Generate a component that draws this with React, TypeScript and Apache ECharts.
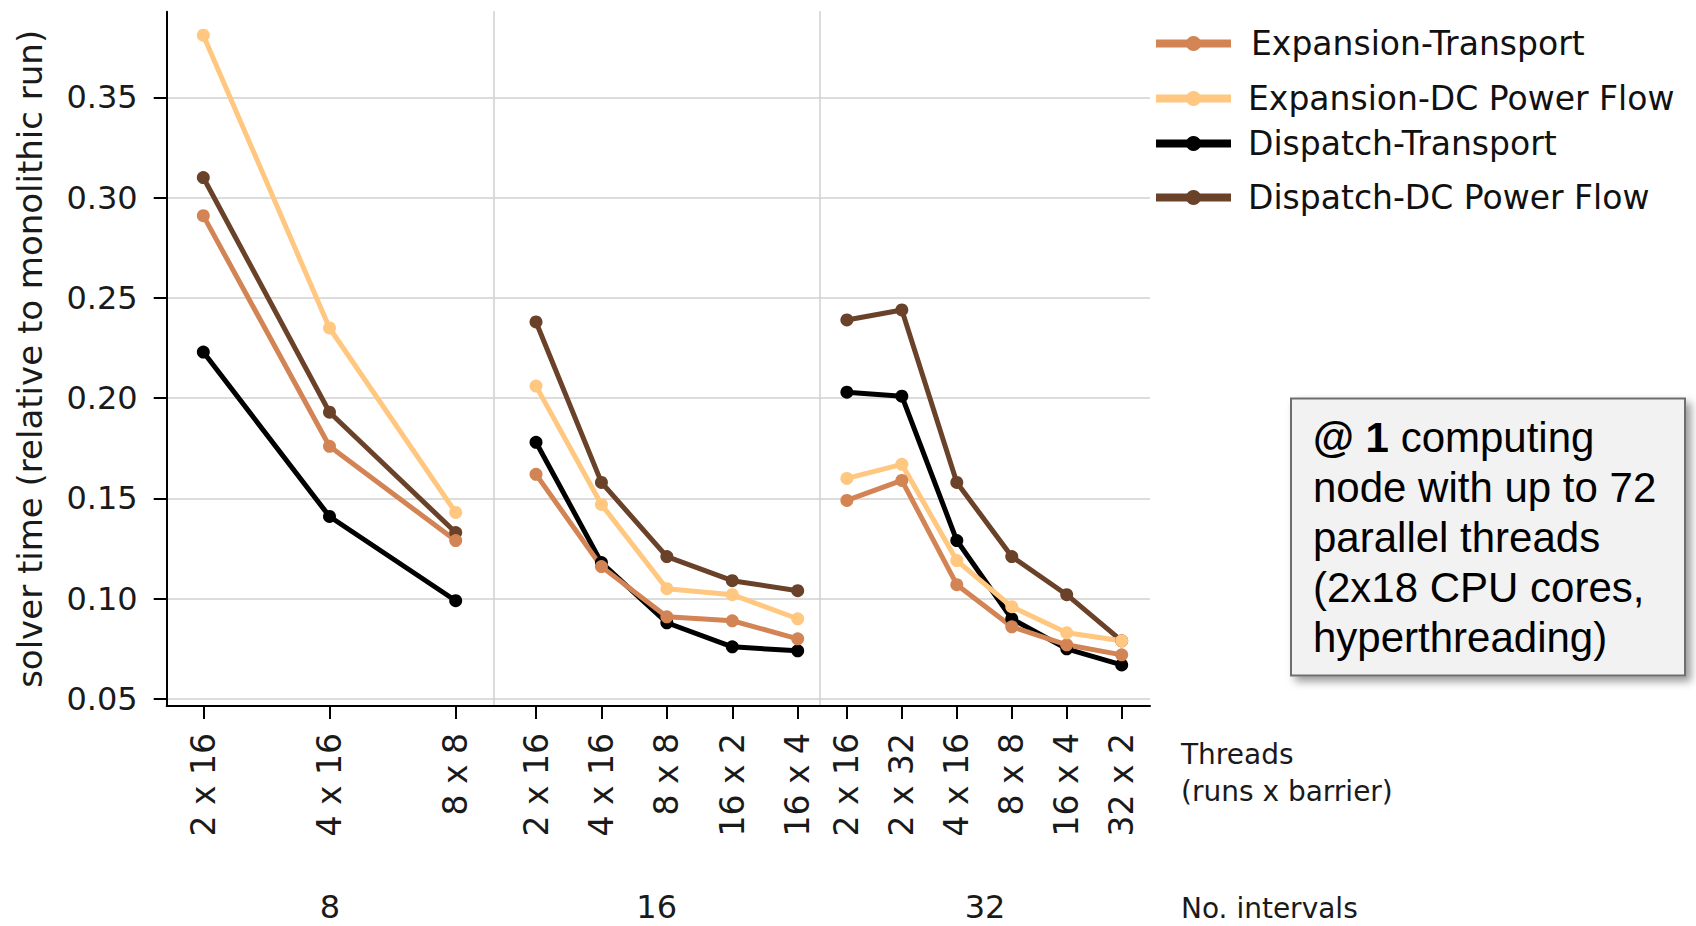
import React, { useEffect, useRef } from "react";
import * as echarts from "echarts";

// ---------- data ----------
const seriesNames = [
  "Expansion-Transport",
  "Expansion-DC Power Flow",
  "Dispatch-Transport",
  "Dispatch-DC Power Flow",
];
const seriesColors = ["#D38454", "#FFC77F", "#000000", "#694229"];

const intervalLabels = ["8", "16", "32"];
const threads8 = ["2 x 16", "4 x 16", "8 x 8"];
const threads16 = ["2 x 16", "4 x 16", "8 x 8", "16 x 2", "16 x 4"];
const threads32 = ["2 x 16", "2 x 32", "4 x 16", "8 x 8", "16 x 4", "32 x 2"];
const yTicks = [0.05, 0.1, 0.15, 0.2, 0.25, 0.3, 0.35];

const expansionTransport8 = [0.291, 0.176, 0.129];
const expansionTransport16 = [0.162, 0.116, 0.091, 0.089, 0.08];
const expansionTransport32 = [0.149, 0.159, 0.107, 0.086, 0.077, 0.072];

const expansionDC8 = [0.381, 0.235, 0.143];
const expansionDC16 = [0.206, 0.147, 0.105, 0.102, 0.09];
const expansionDC32 = [0.16, 0.167, 0.119, 0.096, 0.083, 0.079];

const dispatchTransport8 = [0.223, 0.141, 0.099];
const dispatchTransport16 = [0.178, 0.118, 0.088, 0.076, 0.074];
const dispatchTransport32 = [0.203, 0.201, 0.129, 0.09, 0.075, 0.067];

const dispatchDC8 = [0.31, 0.193, 0.133];
const dispatchDC16 = [0.238, 0.158, 0.121, 0.109, 0.104];
const dispatchDC32 = [0.239, 0.244, 0.158, 0.121, 0.102, 0.079];

const yAxisTitle = "solver time (relative to monolithic run)";
const threadsTitle = "Threads\n(runs x barrier)";
const intervalsTitle = "No. intervals";
const noteText =
  "{b|@ 1} computing\nnode with up to 72\nparallel threads\n(2x18 CPU cores,\nhyperthreading)";

// ---------- layout ----------
const FONT = "'DejaVu Sans', sans-serif";
const groups = [
  { threads: threads8, values: [expansionTransport8, expansionDC8, dispatchTransport8, dispatchDC8] },
  { threads: threads16, values: [expansionTransport16, expansionDC16, dispatchTransport16, dispatchDC16] },
  { threads: threads32, values: [expansionTransport32, expansionDC32, dispatchTransport32, dispatchDC32] },
];
const gridLeft = [166.7, 493.3, 820];
const gridWidth = [326.6, 326.7, 330];
const gridTop = 11.7;
const gridHeight = 694.3;
const xMin = [-0.29, -0.653, -0.489];
const xMax = [2.298, 4.341, 5.515];
const yMin = 0.0465;
const yMax = 0.3927;
const legendTops = [27, 82, 127, 181];
const drawOrder = [2, 3, 0, 1];

export default function App() {
  const ref = useRef<HTMLDivElement>(null);

  useEffect(() => {
    if (!ref.current) return;
    const chart = echarts.init(ref.current, undefined, { renderer: "svg" });

    const grid = groups.map((_, g) => ({
      left: gridLeft[g],
      top: gridTop,
      width: gridWidth[g],
      height: gridHeight,
    }));

    const xAxis = groups.map((grp, g) => {
      const idx = grp.threads.map((_, i) => i);
      return {
        type: "value",
        gridIndex: g,
        min: xMin[g],
        max: xMax[g],
        axisLine: { show: true, onZero: false, lineStyle: { color: "#000", width: 2 } },
        axisTick: { show: true, length: 13, customValues: idx, lineStyle: { color: "#000", width: 2 } },
        axisLabel: {
          customValues: idx,
          formatter: (v: number) => grp.threads[Math.round(v)],
          rotate: 90,
          margin: 27,
          fontSize: 33,
          fontFamily: FONT,
          color: "#1a1a1a",
        },
        splitLine: { show: false },
      };
    });

    const yAxis = groups.map((_, g) => ({
      type: "value",
      gridIndex: g,
      min: yMin,
      max: yMax,
      name: g === 0 ? yAxisTitle : "",
      nameLocation: "middle",
      nameGap: 120,
      nameTextStyle: { fontSize: 34, fontFamily: FONT, color: "#1a1a1a" },
      axisLine: {
        show: true,
        onZero: false,
        lineStyle: { color: g === 0 ? "#000" : "#d0d0d0", width: g === 0 ? 2 : 1.5 },
      },
      axisTick: {
        show: g === 0,
        length: 13,
        customValues: yTicks,
        lineStyle: { color: "#000", width: 2 },
      },
      axisLabel: {
        show: g === 0,
        customValues: yTicks,
        formatter: (v: number) => v.toFixed(2),
        margin: 29,
        fontSize: 32,
        fontFamily: FONT,
        color: "#1a1a1a",
      },
      splitLine: { show: true, lineStyle: { color: "#d0d0d0", width: 1.5 } },
    }));

    const series: any[] = [];
    groups.forEach((grp, g) => {
      drawOrder.forEach((s) => {
        series.push({
          type: "line",
          name: seriesNames[s],
          xAxisIndex: g,
          yAxisIndex: g,
          data: grp.values[s].map((v, i) => [i, v]),
          symbol: "circle",
          symbolSize: 13,
          showSymbol: true,
          lineStyle: { width: 5, color: seriesColors[s] },
          itemStyle: { color: seriesColors[s] },
          emphasis: { disabled: true },
        });
      });
    });

    const legend = seriesNames.map((name, i) => ({
      data: [name],
      left: 1152,
      top: legendTops[i],
      orient: "vertical",
      padding: 0,
      itemWidth: 75,
      itemHeight: 19,
      selectedMode: false,
      lineStyle: { width: 8 },
      textStyle: {
        fontSize: 33,
        fontFamily: FONT,
        color: "#111",
        padding: [0, 0, 0, i === 0 ? 15 : 12],
      },
    }));

    const graphic: any[] = [
      ...intervalLabels.map((t, g) => ({
        type: "text",
        x: gridLeft[g] + gridWidth[g] / 2,
        y: 907,
        style: {
          text: t,
          fontSize: 32,
          fontFamily: FONT,
          fill: "#1a1a1a",
          textAlign: "center",
          textVerticalAlign: "middle",
        },
      })),
      {
        type: "text",
        x: 1181,
        y: 736,
        style: {
          text: threadsTitle,
          fontSize: 28,
          lineHeight: 37,
          fontFamily: FONT,
          fill: "#1a1a1a",
          textAlign: "left",
          textVerticalAlign: "top",
        },
      },
      {
        type: "text",
        x: 1181,
        y: 908,
        style: {
          text: intervalsTitle,
          fontSize: 28,
          fontFamily: FONT,
          fill: "#1a1a1a",
          textAlign: "left",
          textVerticalAlign: "middle",
        },
      },
      {
        type: "rect",
        shape: { x: 1291, y: 398.5, width: 394, height: 277 },
        style: {
          fill: "#F2F2F2",
          stroke: "#6e6e6e",
          lineWidth: 2,
          shadowBlur: 8,
          shadowOffsetX: 5,
          shadowOffsetY: 5,
          shadowColor: "rgba(0,0,0,0.4)",
        },
      },
      {
        type: "text",
        x: 1313,
        y: 412,
        style: {
          text: noteText,
          fontSize: 42,
          lineHeight: 50,
          fontFamily: "'Liberation Sans', Arial, sans-serif",
          fill: "#000",
          textAlign: "left",
          textVerticalAlign: "top",
          rich: {
            b: {
              fontSize: 42,
              lineHeight: 50,
              fontWeight: "bold",
              fontFamily: "'Liberation Sans', Arial, sans-serif",
              fill: "#000",
            },
          },
        },
      },
    ];

    chart.setOption({
      animation: false,
      backgroundColor: "#ffffff",
      grid,
      xAxis,
      yAxis,
      series,
      legend,
      graphic,
    } as any);

    return () => chart.dispose();
  }, []);

  return (
    <div
      ref={ref}
      style={{ position: "absolute", left: 0, top: 0, width: 1696, height: 926 }}
    />
  );
}
